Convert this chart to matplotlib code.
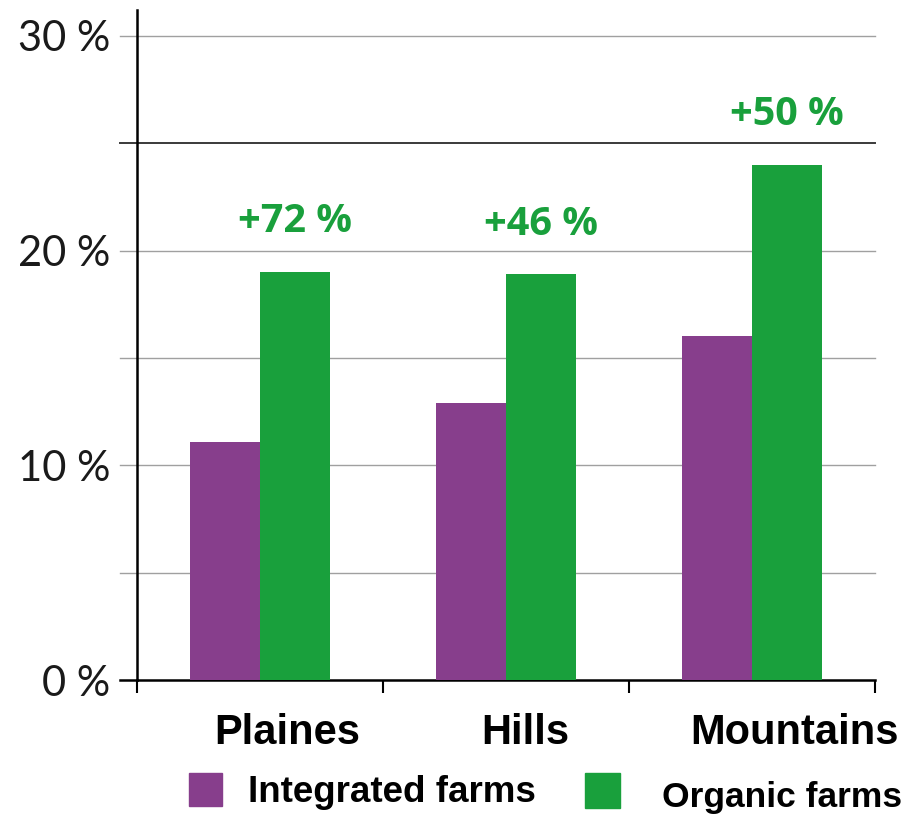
import matplotlib.pyplot as plt
from matplotlib.patches import Rectangle

# data
regions = ["Plaines", "Hills", "Mountains"]
integrated = [11.1, 12.9, 16.0]
organic = [19.0, 18.9, 24.0]
gains = ["+72 %", "+46 %", "+50 %"]
y_labels = ["0 %", "10 %", "20 %", "30 %"]
series_names = ["Integrated farms", "Organic farms"]

purple = "#873e8c"
green = "#19a03c"

fig = plt.figure(figsize=(9.12, 8.15), dpi=100)
ax = fig.add_axes([137 / 912, 1 - 680 / 815, 738 / 912, 670 / 815])

x = list(range(len(regions)))
w = 0.285
ax.bar([i - w / 2 for i in x], integrated, width=w, color=purple, zorder=3)
ax.bar([i + w / 2 for i in x], organic, width=w, color=green, zorder=3)

ax.set_xlim(-0.5, 2.5)
ax.set_ylim(0, 31.2)

# grid lines (extend a bit left of the axis)
for v in [5, 10, 15, 20, 25, 30]:
    col = "#3a3a3a" if v == 25 else "#a0a0a0"
    lw = 1.4 if v == 25 else 1.0
    ax.axhline(v, xmin=-0.023, xmax=1, color=col, lw=lw, clip_on=False, zorder=1)
ax.plot([-0.5 - 0.069, -0.5], [0, 0], color="black", lw=1.8, clip_on=False, zorder=4)

# gain labels above organic bars
for i, g in enumerate(gains):
    ax.annotate(g, (i + w / 2, organic[i]), xytext=(0, 50), textcoords="offset pixels",
                ha="center", va="center", color=green, fontsize=28.5,
                fontweight="bold", family="Open Sans")

for s in ["top", "right"]:
    ax.spines[s].set_visible(False)
ax.spines["left"].set_linewidth(1.8)
ax.spines["bottom"].set_linewidth(1.8)

ax.set_yticks([0, 10, 20, 30])
ax.set_yticklabels(y_labels, fontsize=30, family="Lato", color="#1a1a1a")
ax.tick_params(axis="y", length=0, pad=19)
ax.set_xticks([-0.5, 0.5, 1.5, 2.5])
ax.set_xticklabels([])
ax.tick_params(axis="x", direction="out", length=9, width=1.5)

# category labels (slightly right of category centres, as in the source)
label_shift = [27, 19, 43]
for i, r in enumerate(regions):
    ax.annotate(r, (i, 0), xytext=(label_shift[i], -53), textcoords="offset pixels",
                ha="center", va="center", fontsize=30, fontweight="bold",
                family="Liberation Sans")

# legend
fig.patches.append(Rectangle((189 / 912, 1 - 806 / 815), 33 / 912, 33 / 815,
                             transform=fig.transFigure, color=purple))
fig.patches.append(Rectangle((585 / 912, 1 - 808 / 815), 35 / 912, 35 / 815,
                             transform=fig.transFigure, color=green))
fig.text(248 / 912, 1 - 792 / 815, series_names[0], fontsize=26.5, fontweight="bold",
         family="Liberation Sans", va="center")
fig.text(662 / 912, 1 - 797 / 815, series_names[1], fontsize=25.5, fontweight="bold",
         family="Liberation Sans", va="center")

fig.savefig("out.png", dpi=100)
